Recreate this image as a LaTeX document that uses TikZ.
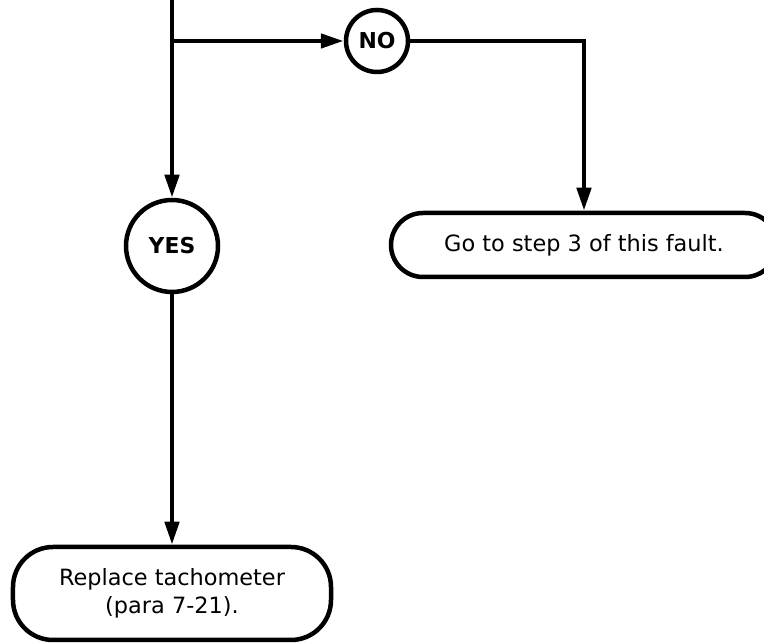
\documentclass[tikz,border=0pt]{standalone}
\usepackage{fontspec}
\setmainfont{DejaVu Sans}
\usetikzlibrary{arrows.meta}
\begin{document}
\begin{tikzpicture}[x=1bp,y=1bp,
  line width=4.5bp,
  conn/.style={-{Triangle[length=23bp,width=14bp]}},
  decision/.style={circle,draw,line width=4.5bp,inner sep=0pt,font=\fontsize{22}{26}\selectfont\bfseries},
  term/.style={draw,rounded corners=32bp,line width=4.5bp,align=center,font=\fontsize{22.5}{28}\selectfont,inner sep=0pt}]
\useasboundingbox (0,0) rectangle (764,643);
\coordinate (top) at (172,643);
\coordinate (split) at (172,602);
\node[decision,minimum size=62bp] (no) at (377,602) {NO};
\coordinate (corner) at (584,602);
\node[term,minimum width=386bp,minimum height=64bp] (goto) at (584,398) {Go to step 3 of this fault.};
\node[decision,minimum size=92bp] (yes) at (172,397) {YES};
\node[term,minimum width=318bp,minimum height=93bp,rounded corners=40bp] (repl) at (172,49.5) {Replace tachometer\\(para 7-21).};
\draw (top) -- (split);
\draw[conn] (split) -- (yes);
\draw[conn] (split) -- (no);
\draw[conn] (no) -- (corner) -- (goto);
\draw[conn] (yes) -- (repl);
\end{tikzpicture}
\end{document}
